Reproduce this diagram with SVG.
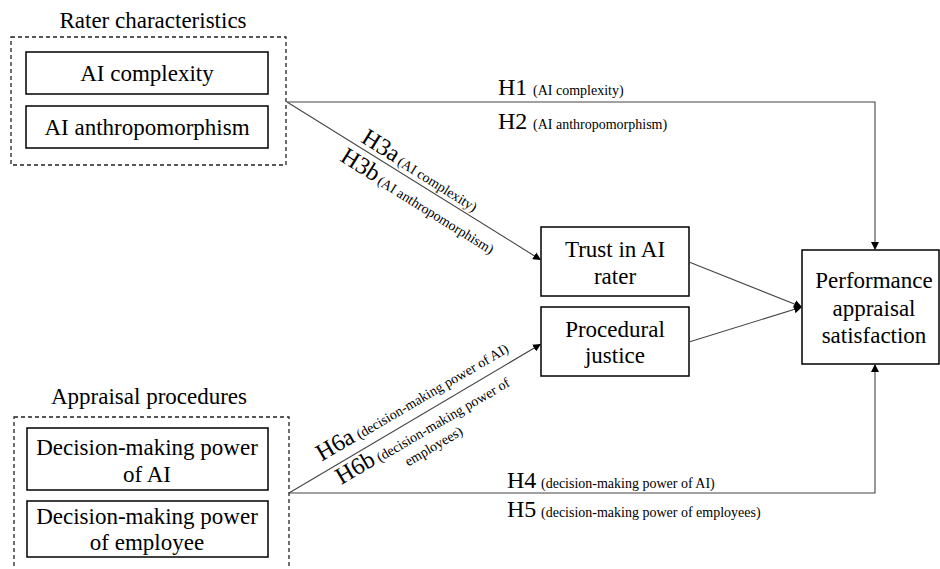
<svg xmlns="http://www.w3.org/2000/svg" width="940" height="569" viewBox="0 0 940 569">
<defs>
<style>
text{font-family:"Liberation Serif","Times New Roman",serif;fill:#000}
.t{font-size:23px;text-anchor:middle}
.h{font-size:24px}
.s{font-size:14px}
.box{fill:#fff;stroke:#000;stroke-width:1.5}
.dash{fill:none;stroke:#222;stroke-width:1.3;stroke-dasharray:4 3}
.ln{fill:none;stroke:#444;stroke-width:1.1}
</style>
<marker id="ah" viewBox="0 0 10 10" refX="10" refY="5" markerWidth="8" markerHeight="8" markerUnits="userSpaceOnUse" orient="auto">
<path d="M0,0 L10,5 L0,10 z" fill="#000"/>
</marker>
</defs>
<rect width="940" height="569" fill="#fff"/>

<g id="rater-characteristics">
<text class="t" x="153" y="28">Rater characteristics</text>
<rect class="dash" x="11" y="37" width="275" height="128"/>
</g>
<g id="ai-complexity">
<rect class="box" x="26" y="52" width="242" height="42"/>
<text class="t" x="147" y="81">AI complexity</text>
</g>
<g id="ai-anthropomorphism">
<rect class="box" x="26" y="106" width="242" height="42"/>
<text class="t" x="147" y="135">AI anthropomorphism</text>
</g>

<g id="appraisal-procedures">
<text class="t" x="149" y="404">Appraisal procedures</text>
<rect class="dash" x="14" y="417" width="275" height="160"/>
</g>
<g id="dm-ai">
<rect class="box" x="27" y="428" width="241" height="62"/>
<text class="t" x="147" y="455">Decision-making power</text>
<text class="t" x="147" y="482">of AI</text>
</g>
<g id="dm-employee">
<rect class="box" x="27" y="501" width="241" height="56"/>
<text class="t" x="147" y="524">Decision-making power</text>
<text class="t" x="147" y="550">of employee</text>
</g>

<g id="trust">
<rect class="box" x="541" y="227" width="148" height="69"/>
<text class="t" x="615" y="257">Trust in AI</text>
<text class="t" x="615" y="284">rater</text>
</g>
<g id="procedural">
<rect class="box" x="541" y="307" width="148" height="69"/>
<text class="t" x="615" y="337">Procedural</text>
<text class="t" x="615" y="363">justice</text>
</g>
<g id="performance">
<rect class="box" x="802" y="250" width="137" height="114"/>
<text class="t" x="874" y="288">Performance</text>
<text class="t" x="874" y="316">appraisal</text>
<text class="t" x="874" y="343">satisfaction</text>
</g>

<g id="connectors">
<polyline class="ln" points="287,102 875,102 875,250" marker-end="url(#ah)"/>
<polyline class="ln" points="289,493 875,493 875,364" marker-end="url(#ah)"/>
<line class="ln" x1="287" y1="102" x2="541" y2="260" marker-end="url(#ah)"/>
<line class="ln" x1="289" y1="493" x2="541" y2="344" marker-end="url(#ah)"/>
<line class="ln" x1="689" y1="262" x2="802" y2="307" marker-end="url(#ah)"/>
<line class="ln" x1="689" y1="342" x2="802" y2="307" marker-end="url(#ah)"/>
</g>

<g id="labels">
<text class="h" x="498" y="95">H1</text>
<text class="s" x="533" y="95">(AI complexity)</text>
<text class="h" x="498" y="129">H2</text>
<text class="s" x="533" y="129">(AI anthropomorphism)</text>
<text class="h" x="507" y="488">H4</text>
<text class="s" x="541" y="488">(decision-making power of AI)</text>
<text class="h" x="507" y="517">H5</text>
<text class="s" x="541" y="517">(decision-making power of employees)</text>

<g transform="translate(287,102) rotate(31.9)">
<text class="h" x="83" y="-5">H3a</text>
<text class="s" x="126" y="-5">(AI complexity)</text>
<text class="h" x="75" y="22">H3b</text>
<text class="s" x="119" y="22">(AI anthropomorphism)</text>
</g>
<g transform="translate(288,493) rotate(-30.4)">
<text class="h" x="45" y="-10">H6a</text>
<text class="s" x="89" y="-10">(decision-making power of AI)</text>
<text class="h" x="50" y="20">H6b</text>
<text class="s" x="95" y="20">(decision-making power of</text>
<text class="s" x="117" y="38">employees)</text>
</g>
</g>
</svg>
